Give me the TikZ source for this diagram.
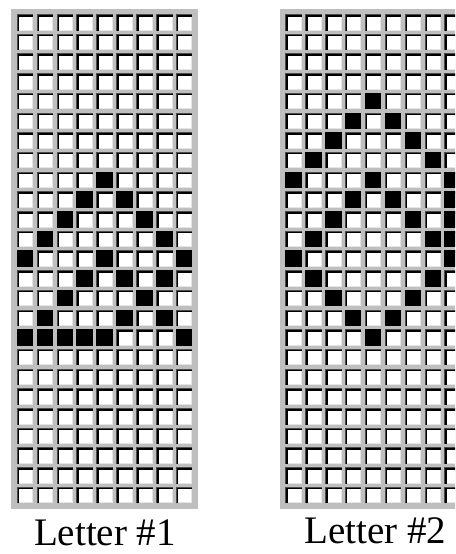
\documentclass[tikz,border=0pt]{standalone}
\usepackage{fontspec}
\setmainfont{Liberation Serif}
\usepackage{tikz}

\tikzset{
	framebox/.style={fill=gray!50},
	cellback/.style={fill=white},
	cellshade/.style={draw=black!70, line width=1pt},
	celledge/.style={draw=black, line width=1.5pt},
	celllight/.style={draw=black!10, line width=1pt},
	inkcell/.style={fill=black},
	lettername/.style={font=\fontsize{39}{42}\selectfont, inner sep=0pt, anchor=base}
}

\newcommand{\emptygrid}{%
	\fill[framebox] (11,8.5) rectangle (197.5,509);
	\foreach \c in {0,...,8}
		\foreach \r in {0,...,24} {
			\begin{scope}[shift={(16.7+19.9*\c,14+19.7*\r)}]
				\fill[cellback] (0,0) rectangle (16.5,16.5);
				\draw[celllight] (1,16) -| (16,1);
				\draw[cellshade] (0.5,16.5) |- (16.5,0.5);
				\draw[celledge] (1.75,16.5) |- (16.5,1.75);
			\end{scope}
		}
}

\begin{document}
\begin{tikzpicture}[x=1pt,y=-1pt]
	\useasboundingbox (0,0) rectangle (455,554);
	\clip (0,0) rectangle (455,554);
	\emptygrid
	\foreach \c/\r in {4/8,3/9,5/9,2/10,6/10,1/11,7/11,0/12,4/12,8/12,3/13,5/13,7/13,2/14,6/14,1/15,5/15,7/15,0/16,1/16,2/16,3/16,4/16,8/16}
		\fill[inkcell] (16.7+19.9*\c,14+19.7*\r) rectangle ++(16.5,16.5);
	\node[lettername] (label1) at (105,545) {Letter \#1};
	\begin{scope}[xshift=268.5pt]
		\emptygrid
		\foreach \c/\r in {4/4,3/5,5/5,2/6,6/6,1/7,7/7,0/8,4/8,8/8,3/9,5/9,8/9,2/10,6/10,8/10,1/11,7/11,8/11,0/12,8/12,1/13,7/13,2/14,6/14,3/15,5/15,4/16}
			\fill[inkcell] (16.7+19.9*\c,14+19.7*\r) rectangle ++(16.5,16.5);
		\node[lettername] (label2) at (107,543) {Letter \#2};
	\end{scope}
\end{tikzpicture}
\end{document}
